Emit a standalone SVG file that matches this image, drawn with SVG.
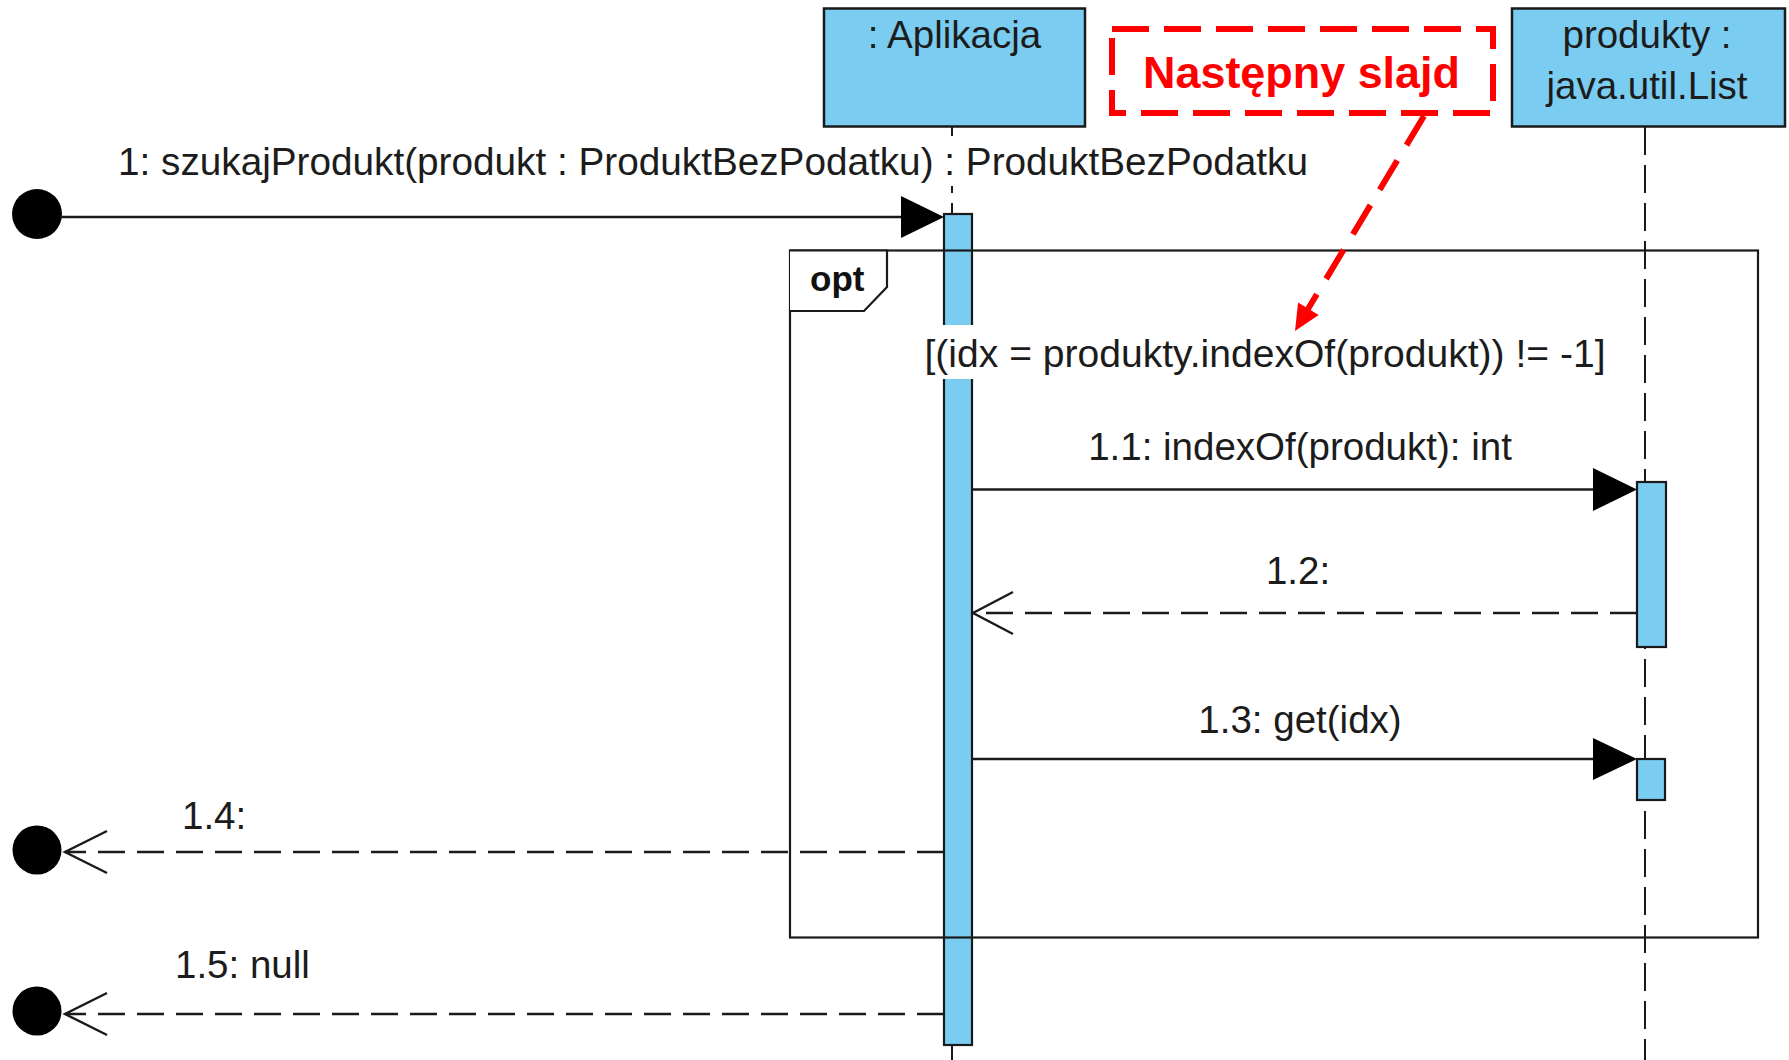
<svg xmlns="http://www.w3.org/2000/svg" width="1789" height="1060" viewBox="0 0 1789 1060">
  <style>
    .lbl { font-family: "Liberation Sans", Arial, sans-serif; font-size: 38.5px; fill: #1c1c1c; }
    .obj { fill: #7acdf1; stroke: #1a1a1a; stroke-width: 2.5; }
    .bar { fill: #7acdf1; stroke: #1a1a1a; stroke-width: 2.2; }
    .life { stroke: #1a1a1a; stroke-width: 2; stroke-dasharray: 28 10; fill: none; }
    .msg { stroke: #1a1a1a; stroke-width: 2.4; fill: none; }
    .ret { stroke: #1a1a1a; stroke-width: 2.4; fill: none; stroke-dasharray: 27 12; }
    .open { stroke: #1a1a1a; stroke-width: 2.4; fill: none; }
    .head { fill: #000; }
    .dot { fill: #000; }
    .note { fill: none; stroke: #ff0000; stroke-width: 6; stroke-dasharray: 37 15; }
  </style>
  <rect width="1789" height="1060" fill="#ffffff"/>

  <!-- lifelines -->
  <g id="lifelines">
    <line class="life" x1="952" y1="127" x2="952" y2="214"/>
    <line class="life" x1="952" y1="1045" x2="952" y2="1060"/>
    <line class="life" x1="1645" y1="127" x2="1645" y2="1060"/>
  </g>

  <!-- lifeline heads -->
  <g id="aplikacja">
    <rect class="obj" x="824" y="8.5" width="261" height="118"/>
    <text class="lbl" x="954.5" y="48" text-anchor="middle">: Aplikacja</text>
  </g>
  <g id="produkty">
    <rect class="obj" x="1512" y="8.5" width="273" height="118"/>
    <text class="lbl" x="1647" y="48" text-anchor="middle">produkty :</text>
    <text class="lbl" x="1647" y="99" text-anchor="middle">java.util.List</text>
  </g>

  <!-- activation bars -->
  <g id="activations">
    <rect class="bar" x="944" y="214" width="28" height="831"/>
    <rect class="bar" x="1637" y="482" width="29" height="165"/>
    <rect class="bar" x="1637" y="759" width="28" height="41"/>
  </g>

  <!-- combined fragment -->
  <g id="opt-fragment">
    <rect x="790" y="250.5" width="968" height="687" fill="none" stroke="#1a1a1a" stroke-width="2.2"/>
    <path d="M790,250.5 H887 V287 L864,311 H790" fill="#ffffff" stroke="#1a1a1a" stroke-width="2.2"/>
    <text x="810" y="291" font-family="Liberation Sans, Arial, sans-serif" font-size="35" font-weight="bold" fill="#111">opt</text>
    <rect x="924" y="325" width="682" height="54" fill="#ffffff"/>
    <text class="lbl" x="1265" y="367" text-anchor="middle" textLength="681" lengthAdjust="spacingAndGlyphs">[(idx = produkty.indexOf(produkt)) != -1]</text>
  </g>

  <!-- gates -->
  <g id="gates">
    <circle class="dot" cx="37" cy="214" r="25"/>
    <circle class="dot" cx="37" cy="850" r="24.5"/>
    <circle class="dot" cx="37" cy="1011" r="24.5"/>
  </g>

  <!-- messages -->
  <g id="connectors">
    <!-- 1: found message -->
    <line class="msg" x1="60" y1="217" x2="902" y2="217"/>
    <polygon class="head" points="901,196 944,217 901,238"/>
    <!-- 1.1 -->
    <line class="msg" x1="972" y1="489.5" x2="1594" y2="489.5"/>
    <polygon class="head" points="1593,468 1637,489.5 1593,511"/>
    <!-- 1.2 reply -->
    <line class="ret" x1="1637" y1="613" x2="973" y2="613"/>
    <polyline class="open" points="1013,592 973,613 1013,634"/>
    <!-- 1.3 -->
    <line class="msg" x1="972" y1="759" x2="1594" y2="759"/>
    <polygon class="head" points="1593,738 1637,759 1593,780"/>
    <!-- 1.4 reply to gate -->
    <line class="ret" x1="944" y1="852" x2="65" y2="852"/>
    <polyline class="open" points="107,831 65,852 107,873"/>
    <!-- 1.5 reply to gate -->
    <line class="ret" x1="944" y1="1014" x2="65" y2="1014"/>
    <polyline class="open" points="107,993 65,1014 107,1035"/>
  </g>

  <!-- message labels -->
  <g id="labels">
    <rect x="112" y="136" width="1204" height="50" fill="#ffffff"/>
    <text class="lbl" x="118" y="175" textLength="1190" lengthAdjust="spacingAndGlyphs">1: szukajProdukt(produkt : ProduktBezPodatku) : ProduktBezPodatku</text>
    <text class="lbl" x="1300" y="460" text-anchor="middle">1.1: indexOf(produkt): int</text>
    <text class="lbl" x="1298" y="584" text-anchor="middle">1.2:</text>
    <text class="lbl" x="1300" y="733" text-anchor="middle">1.3: get(idx)</text>
    <text class="lbl" x="182" y="829">1.4:</text>
    <text class="lbl" x="175" y="978">1.5: null</text>
  </g>

  <!-- red annotation -->
  <g id="annotation">
    <rect class="note" x="1112" y="29" width="381" height="84"/>
    <text x="1143" y="88" font-family="Liberation Sans, Arial, sans-serif" font-size="45" font-weight="bold" fill="#ff0000" textLength="317" lengthAdjust="spacingAndGlyphs">Następny slajd</text>
    <line x1="1424" y1="116" x2="1308" y2="309" stroke="#ff0000" stroke-width="6" stroke-dasharray="34 18"/>
    <polygon points="1295,331 1318.7,314.9 1298.1,302.5" fill="#ff0000"/>
  </g>
</svg>
